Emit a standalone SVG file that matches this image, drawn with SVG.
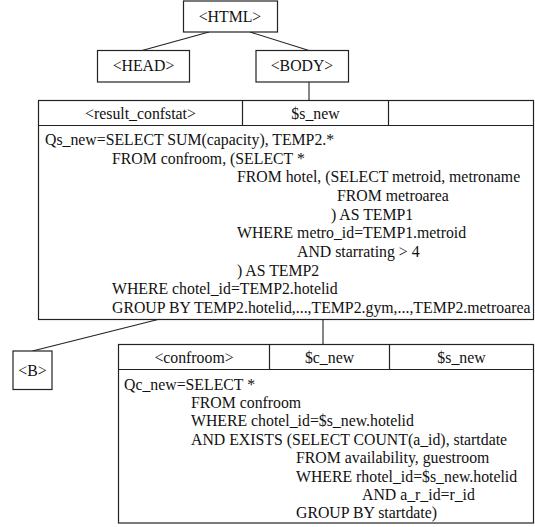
<svg xmlns="http://www.w3.org/2000/svg" width="535" height="527" viewBox="0 0 535 527">
  <style>
    .box { fill: #fff; stroke: #222; stroke-width: 1.2; }
    .rule { stroke: #222; stroke-width: 1.2; fill: none; }
    .edge { stroke: #222; stroke-width: 1.1; fill: none; }
    text { font-family: "Liberation Serif", "Times New Roman", serif; font-size: 15.8px; fill: #111; }
    .c { text-anchor: middle; }
  </style>

  <!-- tree edges -->
  <g id="connectors">
    <line class="edge" x1="209" y1="32" x2="142" y2="50.5"/>
    <line class="edge" x1="250" y1="32" x2="309" y2="50.5"/>
    <line class="edge" x1="309" y1="82" x2="309" y2="100.5"/>
    <line class="edge" x1="158" y1="319.5" x2="32.5" y2="351"/>
    <line class="edge" x1="323" y1="319.5" x2="323" y2="344.5"/>
  </g>

  <g id="html">
    <rect class="box" x="183.5" y="1" width="94" height="31"/>
    <text class="c" x="230" y="21.5">&lt;HTML&gt;</text>
  </g>

  <g id="head">
    <rect class="box" x="97.5" y="50.5" width="92" height="31.5"/>
    <text class="c" x="143.5" y="71">&lt;HEAD&gt;</text>
  </g>

  <g id="body">
    <rect class="box" x="256" y="50.5" width="92.5" height="31.5"/>
    <text class="c" x="302" y="71">&lt;BODY&gt;</text>
  </g>

  <!-- result_confstat record: header row plus query -->
  <g id="result_confstat">
    <rect class="box" x="38.5" y="100.5" width="495" height="219"/>
    <line class="rule" x1="38.5" y1="125.5" x2="533.5" y2="125.5"/>
    <line class="rule" x1="242.5" y1="100.5" x2="242.5" y2="125.5"/>
    <line class="rule" x1="388.5" y1="100.5" x2="388.5" y2="125.5"/>
    <text class="c" x="140.5" y="118.5">&lt;result_confstat&gt;</text>
    <text class="c" x="315.5" y="118.5">$s_new</text>
    <text x="45" y="145">Qs_new=SELECT SUM(capacity), TEMP2.*</text>
    <text x="112" y="163.7">FROM confroom, (SELECT *</text>
    <text x="237" y="182.3">FROM hotel, (SELECT metroid, metroname</text>
    <text x="337" y="201">FROM metroarea</text>
    <text x="331" y="219.7">) AS TEMP1</text>
    <text x="237" y="238.3">WHERE metro_id=TEMP1.metroid</text>
    <text x="297" y="257">AND starrating &gt; 4</text>
    <text x="237" y="275.7">) AS TEMP2</text>
    <text x="112" y="294.3">WHERE chotel_id=TEMP2.hotelid</text>
    <text x="112" y="313">GROUP BY TEMP2.hotelid,...,TEMP2.gym,...,TEMP2.metroarea</text>
  </g>

  <g id="b">
    <rect class="box" x="13" y="351" width="39" height="38.5"/>
    <text class="c" x="32.5" y="375.5">&lt;B&gt;</text>
  </g>

  <!-- confroom record -->
  <g id="confroom">
    <rect class="box" x="118.5" y="344.5" width="415" height="178.5"/>
    <line class="rule" x1="118.5" y1="369.5" x2="533.5" y2="369.5"/>
    <line class="rule" x1="269.5" y1="344.5" x2="269.5" y2="369.5"/>
    <line class="rule" x1="389.5" y1="344.5" x2="389.5" y2="369.5"/>
    <text class="c" x="194" y="362.5">&lt;confroom&gt;</text>
    <text class="c" x="329.5" y="362.5">$c_new</text>
    <text class="c" x="461.5" y="362.5">$s_new</text>
    <text x="124" y="389.5">Qc_new=SELECT *</text>
    <text x="191" y="407.9">FROM confroom</text>
    <text x="191" y="426.3">WHERE chotel_id=$s_new.hotelid</text>
    <text x="191" y="444.7">AND EXISTS (SELECT COUNT(a_id), startdate</text>
    <text x="296" y="463.1">FROM availability, guestroom</text>
    <text x="296" y="481.5">WHERE rhotel_id=$s_new.hotelid</text>
    <text x="362" y="499.9">AND a_r_id=r_id</text>
    <text x="296" y="518.3">GROUP BY startdate)</text>
  </g>
</svg>
